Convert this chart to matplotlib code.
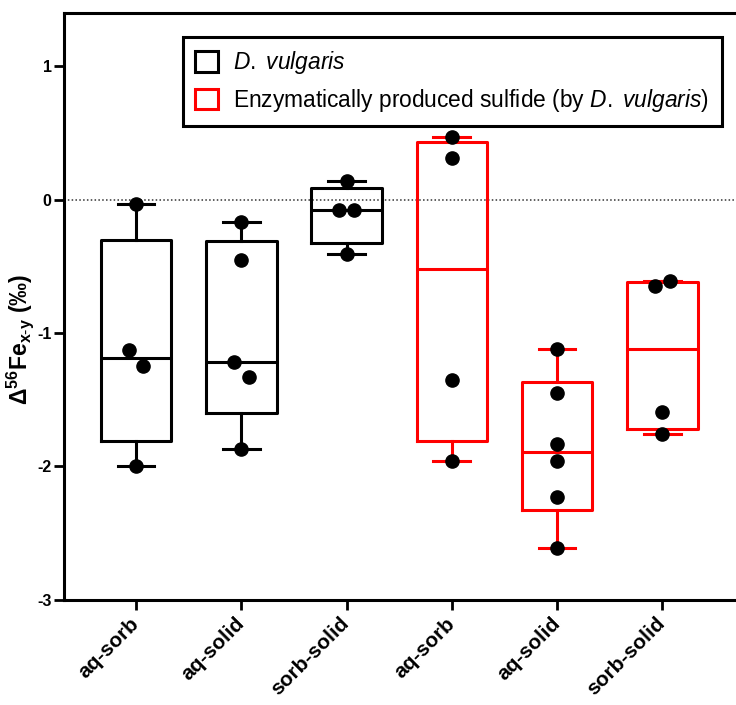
import numpy as np
import matplotlib
matplotlib.use('Agg')
import matplotlib.pyplot as plt
from matplotlib.patches import Patch

plt.rcParams['font.family'] = ['Liberation Sans', 'DejaVu Sans']
plt.rcParams['mathtext.fontset'] = 'custom'
plt.rcParams['mathtext.rm'] = 'Liberation Sans'
plt.rcParams['mathtext.it'] = 'Liberation Sans:italic'
plt.rcParams['mathtext.bf'] = 'Liberation Sans:bold'

# categories (three for D. vulgaris, three for the enzymatic sulfide)
categories = ['aq-sorb', 'aq-solid', 'sorb-solid', 'aq-sorb', 'aq-solid', 'sorb-solid']

# delta 56Fe values
dv_aq_sorb = [-0.03, -1.13, -1.25, -2.00]
dv_aq_solid = [-0.17, -0.45, -1.22, -1.33, -1.87]
dv_sorb_solid = [0.14, -0.08, -0.08, -0.41]
enz_aq_sorb = [0.47, 0.31, -1.35, -1.96]
enz_aq_solid = [-1.12, -1.45, -1.83, -1.96, -2.23, -2.61]
enz_sorb_solid = [-0.645, -0.61, -1.59, -1.76]

groups = [dv_aq_sorb, dv_aq_solid, dv_sorb_solid,
          enz_aq_sorb, enz_aq_solid, enz_sorb_solid]
colors = ['black', 'black', 'black', 'red', 'red', 'red']

legend_labels = [r'$\it{D.}$ $\it{vulgaris}$',
                 r'Enzymatically produced sulfide (by $\it{D.}$ $\it{vulgaris}$)']


def box_stats(vals):
    # Prism-style quartiles, whiskers from min to max
    v = np.asarray(vals)
    q1, med, q3 = np.percentile(v, [25, 50, 75], method='weibull')
    return {'med': med, 'q1': q1, 'q3': q3, 'whislo': v.min(), 'whishi': v.max(),
            'fliers': []}


def dodge(vals, thresh=0.125, off=0.07):
    # spread overlapping points sideways, in listed order
    v = np.asarray(vals)
    xs = np.zeros(len(v))
    i = 0
    while i < len(v) - 1:
        if abs(v[i] - v[i + 1]) < thresh:
            xs[i] = -off
            xs[i + 1] = off
            i += 2
        else:
            i += 1
    return xs


fig = plt.figure(figsize=(7.36, 7.05), dpi=100)
ax = fig.add_axes([0.087, 0.149, 0.913, 0.833])

ax.axhline(0, color='#333333', lw=1.1, ls=(0, (1, 1.5)), zorder=1)

lw = 2.2
for i, (vals, c) in enumerate(zip(groups, colors)):
    ax.bxp([box_stats(vals)], positions=[i], widths=0.67, capwidths=0.35,
           showfliers=False,
           boxprops=dict(color=c, lw=lw),
           whiskerprops=dict(color=c, lw=lw),
           capprops=dict(color=c, lw=lw),
           medianprops=dict(color=c, lw=lw),
           manage_ticks=False)
    ax.plot(i + dodge(vals), vals, 'o', color='black', ms=9.5, zorder=5)

ax.set_xlim(-0.684, 5.70)
ax.set_ylim(-3, 1.40)
ax.set_yticks([-3, -2, -1, 0, 1])
ax.set_yticklabels(['-3', '-2', '-1', '0', '1'], fontsize=11.5, fontweight='bold')
ax.set_xticks(range(len(categories)))
ax.set_xticklabels(categories, rotation=45, ha='right', va='center',
                   rotation_mode='anchor', fontsize=15, fontweight='bold')
ax.tick_params(axis='both', width=2, length=7, pad=2)
ax.tick_params(axis='x', pad=8)

for s in ['left', 'bottom', 'top']:
    ax.spines[s].set_linewidth(2.2)
ax.spines['right'].set_visible(False)

ax.set_ylabel(r'$\mathbf{\Delta^{56}Fe_{x\text{-}y}}$ (‰)', fontsize=16.5,
              fontweight='bold')
ax.yaxis.set_label_coords(-0.042, 0.443)

handles = [Patch(facecolor='white', edgecolor=c, lw=2.2) for c in ['black', 'red']]
leg = ax.legend(handles, legend_labels, loc='upper left',
                bbox_to_anchor=(0.177, 0.959), borderaxespad=0,
                fontsize=16.4, handlelength=1.0, handleheight=1.0,
                handletextpad=0.65, labelspacing=0.45, borderpad=0.55,
                fancybox=False, framealpha=1, edgecolor='black')
leg.get_frame().set_linewidth(2.2)

fig.savefig('out.png', dpi=100)
